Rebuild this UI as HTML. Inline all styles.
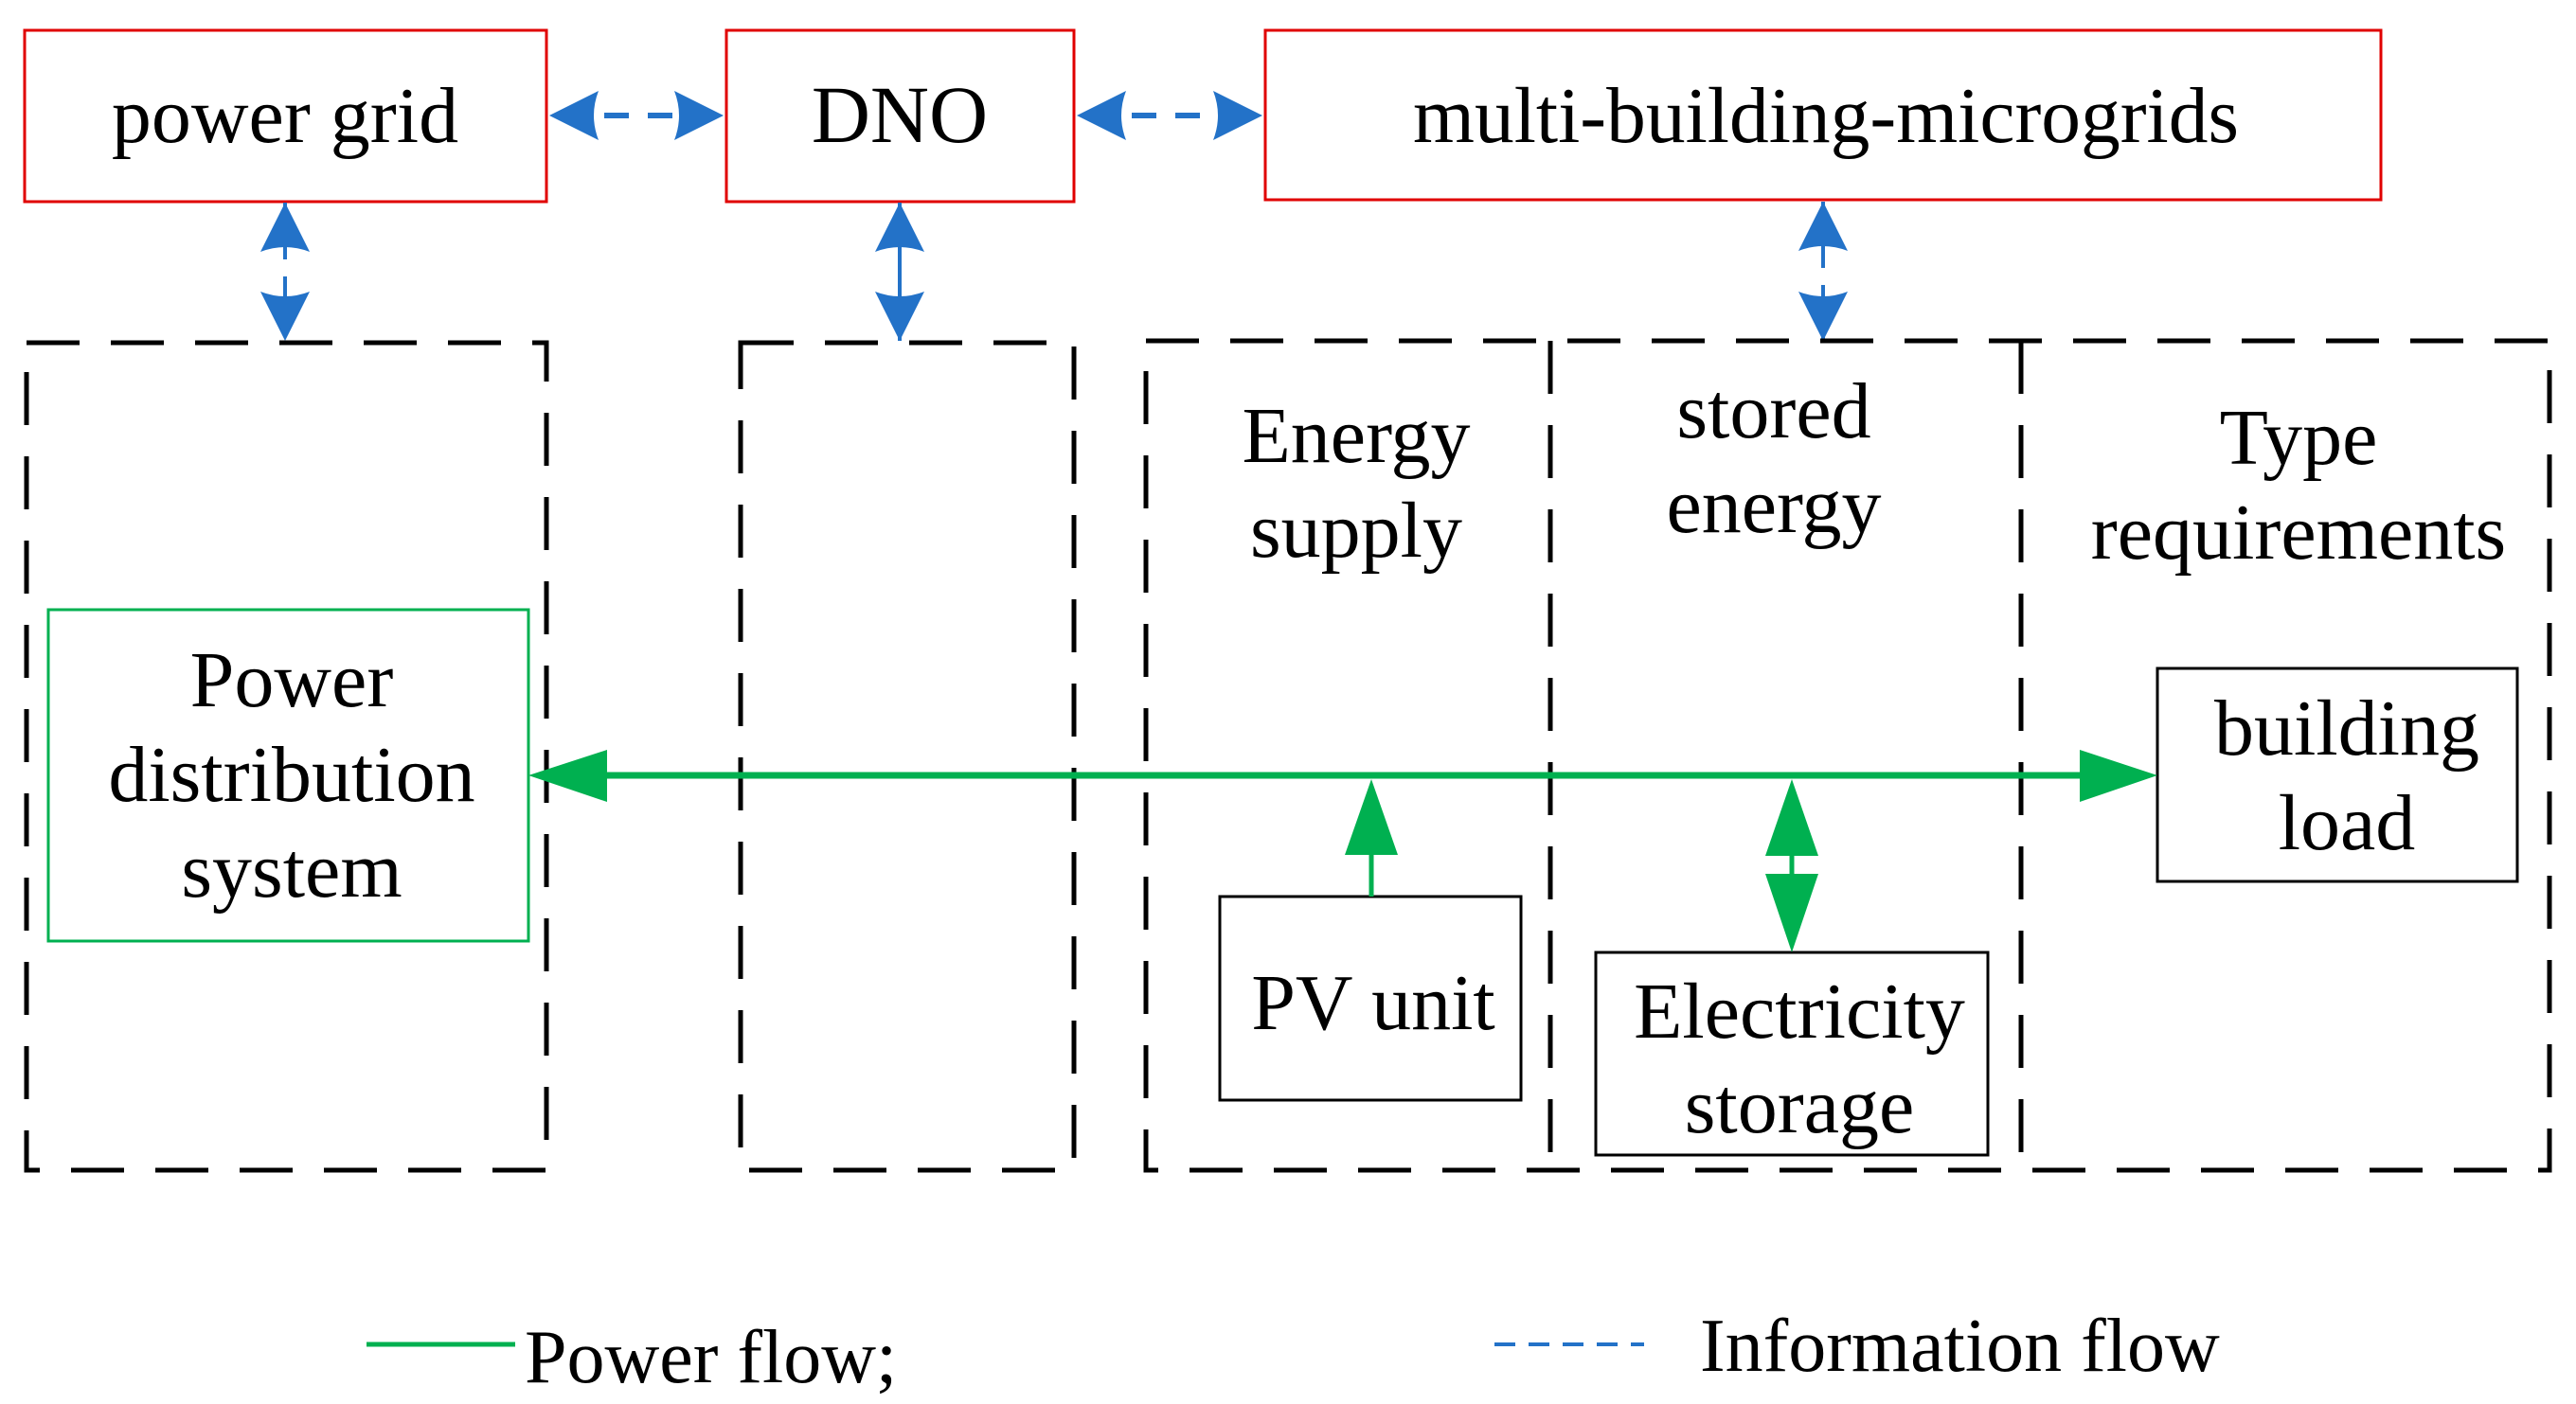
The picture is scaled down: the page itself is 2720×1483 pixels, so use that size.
<!DOCTYPE html>
<html><head><meta charset="utf-8"><style>
html,body{margin:0;padding:0;background:#fff;}
svg{display:block;}
text{font-family:"Liberation Serif",serif;fill:#000;}
</style></head><body>
<svg width="2720" height="1483" viewBox="0 0 2720 1483" xmlns="http://www.w3.org/2000/svg">
<defs>
<marker id="bh" viewBox="0 0 52 52" refX="52" refY="26" markerWidth="52" markerHeight="52" markerUnits="userSpaceOnUse" orient="auto-start-reverse">
<path d="M0,0 Q10,26 0,52 L52,26 Z" fill="#2372c8"/>
</marker>
</defs>
<!-- red boxes -->
<g fill="none" stroke="#e00000" stroke-width="3">
<rect x="26" y="32" width="551" height="181"/>
<rect x="767" y="32" width="367" height="181"/>
<rect x="1336" y="32" width="1178" height="179"/>
</g>
<text x="301" y="150" font-size="84" text-anchor="middle">power grid</text>
<text x="950" y="150" font-size="86" text-anchor="middle">DNO</text>
<text x="1928" y="150" font-size="84" text-anchor="middle" textLength="872" lengthAdjust="spacingAndGlyphs">multi-building-microgrids</text>
<!-- blue info arrows -->
<g stroke="#2372c8" stroke-width="6" fill="none">
<line x1="580" y1="122" x2="764" y2="122" stroke-dasharray="26 20" stroke-dashoffset="-12" marker-start="url(#bh)" marker-end="url(#bh)"/>
<line x1="1137" y1="122" x2="1333" y2="122" stroke-dasharray="26 20" stroke-dashoffset="-12" marker-start="url(#bh)" marker-end="url(#bh)"/>
<line x1="301" y1="214" x2="301" y2="360" stroke-width="4" stroke-dasharray="60 18" marker-start="url(#bh)" marker-end="url(#bh)"/>
<line x1="950" y1="214" x2="950" y2="360" stroke-width="4" marker-start="url(#bh)" marker-end="url(#bh)"/>
<line x1="1925" y1="213" x2="1925" y2="360" stroke-width="4" stroke-dasharray="70 18" marker-start="url(#bh)" marker-end="url(#bh)"/>
</g>
<!-- dashed black boxes -->
<g fill="none" stroke="#000" stroke-width="5" stroke-dasharray="56 33">
<rect x="28" y="362" width="549" height="874"/>
<rect x="782" y="362" width="352" height="874"/>
<rect x="1210" y="360" width="1482" height="876"/>
<line x1="1637" y1="360" x2="1637" y2="1236"/>
<line x1="2134" y1="360" x2="2134" y2="1236"/>
</g>
<!-- green box -->
<rect x="51" y="644" width="507" height="350" fill="none" stroke="#00b050" stroke-width="3"/>
<text font-size="84" text-anchor="middle"><tspan x="308" y="746">Power</tspan><tspan x="308" y="846">distribution</tspan><tspan x="308" y="947">system</tspan></text>
<!-- section titles -->
<text font-size="84" text-anchor="middle"><tspan x="1432" y="488">Energy</tspan><tspan x="1432" y="588">supply</tspan></text>
<text font-size="84" text-anchor="middle"><tspan x="1873" y="462">stored</tspan><tspan x="1873" y="562">energy</tspan></text>
<text font-size="84" text-anchor="middle"><tspan x="2427" y="490">Type</tspan><tspan x="2427" y="590">requirements</tspan></text>
<!-- black boxes -->
<g fill="#fff" stroke="#000" stroke-width="3">
<rect x="2278" y="706" width="380" height="225"/>
<rect x="1288" y="947" width="318" height="215"/>
<rect x="1685" y="1006" width="414" height="214"/>
</g>
<text font-size="84" text-anchor="middle"><tspan x="2478" y="797">building</tspan><tspan x="2478" y="897">load</tspan></text>
<text x="1450" y="1087" font-size="84" text-anchor="middle">PV unit</text>
<text font-size="84" text-anchor="middle"><tspan x="1900" y="1096">Electricity</tspan><tspan x="1900" y="1196">storage</tspan></text>
<!-- green power flow -->
<g fill="#00b050" stroke="#00b050">
<line x1="620" y1="819" x2="2210" y2="819" stroke-width="7"/>
<polygon points="558,819 641,792 641,847" stroke="none"/>
<polygon points="2278,819 2196,792 2196,847" stroke="none"/>
<line x1="1448" y1="890" x2="1448" y2="947" stroke-width="5"/>
<polygon points="1448,823 1420,903 1476,903" stroke="none"/>
<line x1="1892" y1="895" x2="1892" y2="930" stroke-width="5"/>
<polygon points="1892,823 1864,904 1920,904" stroke="none"/>
<polygon points="1892,1006 1864,923 1920,923" stroke="none"/>
</g>
<!-- legend -->
<line x1="387" y1="1420" x2="544" y2="1420" stroke="#00b050" stroke-width="5"/>
<text x="554" y="1460" font-size="80">Power flow;</text>
<line x1="1578" y1="1420" x2="1736" y2="1420" stroke="#2372c8" stroke-width="4" stroke-dasharray="22 14"/>
<text x="1795" y="1448" font-size="80">Information flow</text>
</svg>
</body></html>
